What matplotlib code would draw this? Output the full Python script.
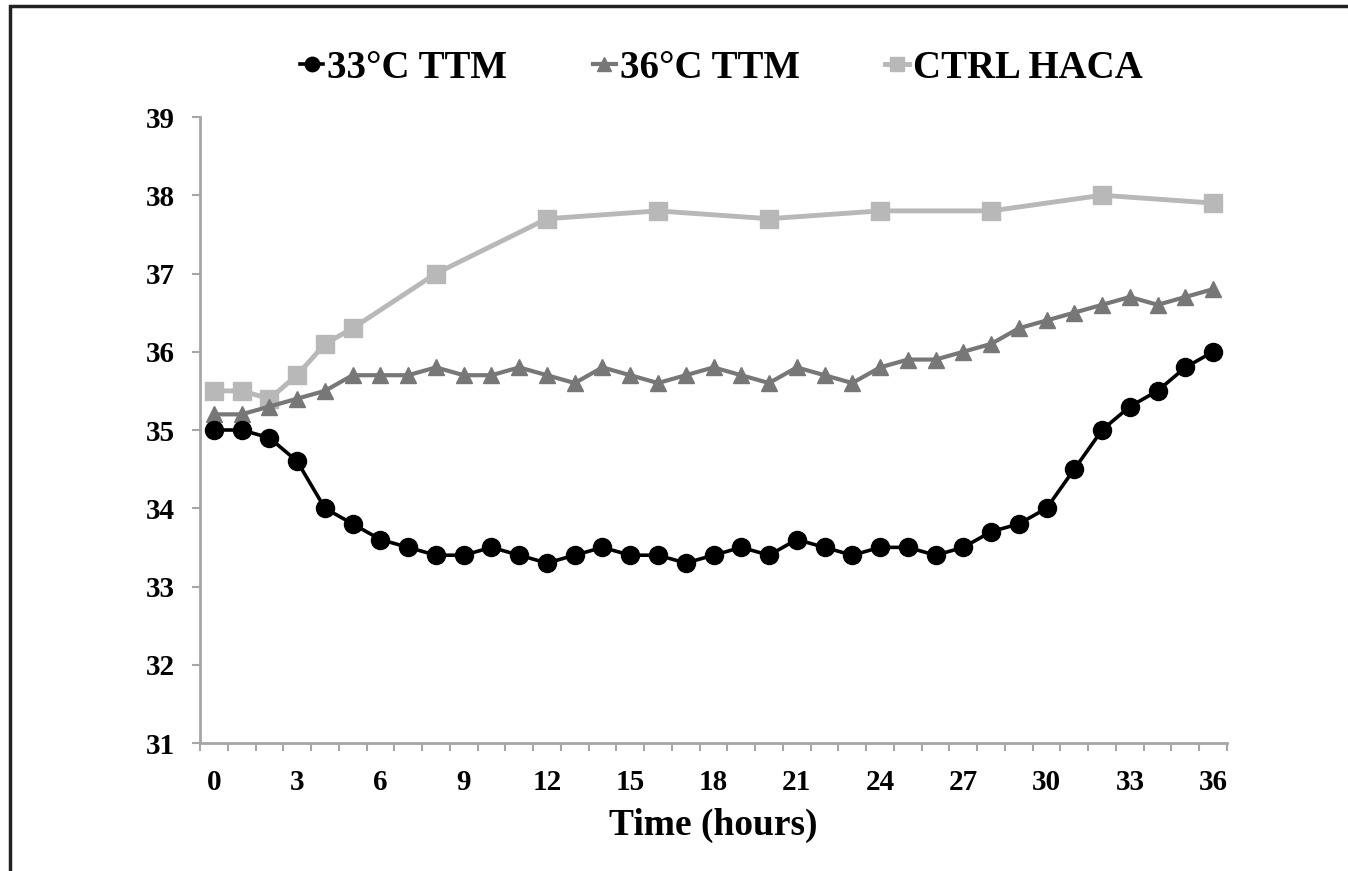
import matplotlib
matplotlib.use("Agg")
import matplotlib.pyplot as plt
from matplotlib.patches import Rectangle

hours = list(range(37))
ttm33 = [35.0, 35.0, 34.9, 34.6, 34.0, 33.8, 33.6, 33.5, 33.4, 33.4,
         33.5, 33.4, 33.3, 33.4, 33.5, 33.4, 33.4, 33.3, 33.4, 33.5,
         33.4, 33.6, 33.5, 33.4, 33.5, 33.5, 33.4, 33.5, 33.7, 33.8,
         34.0, 34.5, 35.0, 35.3, 35.5, 35.8, 36.0]
ttm36 = [35.2, 35.2, 35.3, 35.4, 35.5, 35.7, 35.7, 35.7, 35.8, 35.7,
         35.7, 35.8, 35.7, 35.6, 35.8, 35.7, 35.6, 35.7, 35.8, 35.7,
         35.6, 35.8, 35.7, 35.6, 35.8, 35.9, 35.9, 36.0, 36.1, 36.3,
         36.4, 36.5, 36.6, 36.7, 36.6, 36.7, 36.8]
ctrl_hours = [0, 1, 2, 3, 4, 5, 8, 12, 16, 20, 24, 28, 32, 36]
ctrl_haca = [35.5, 35.5, 35.4, 35.7, 36.1, 36.3, 37.0, 37.7, 37.8, 37.7,
             37.8, 37.8, 38.0, 37.9]
labels = ["33°C TTM", "36°C TTM", "CTRL HACA"]

plt.rcParams['font.family'] = ['Liberation Serif', 'DejaVu Serif']
plt.rcParams['font.weight'] = 'bold'

fig = plt.figure(figsize=(13.48, 8.71), dpi=100)
ax = fig.add_axes([200 / 1348, 1 - 743 / 871, 1027 / 1348, 626 / 871])

# outer frame (only left/top edges visible in the crop)
fig.add_artist(Rectangle((10 / 1348, -0.1), 1.2, 1.1 - 6 / 871,
                         transform=fig.transFigure, fill=False,
                         edgecolor='#222222', linewidth=2.5))

axis_gray = '#a6a6a6'
ax.plot(hours, ttm33, color='black', lw=2.6, marker='o', ms=13,
        label=labels[0], zorder=4)
ax.plot(hours, ttm36, color='#777777', lw=3, marker='^', ms=12,
        label=labels[1], zorder=3)
ax.plot(ctrl_hours, ctrl_haca, color='#b8b8b8', lw=3.5, marker='s', ms=12.5,
        label=labels[2], zorder=2)

ax.set_xlim(-0.5, 36.5)
ax.set_ylim(31, 39)
ax.set_xticks(range(0, 37, 3))
ax.set_xticks([h - 0.5 for h in range(38)], minor=True)
ax.set_yticks(range(31, 40))

for side in ['top', 'right']:
    ax.spines[side].set_visible(False)
for side in ['left', 'bottom']:
    ax.spines[side].set_color(axis_gray)
    ax.spines[side].set_linewidth(2)

ax.tick_params(axis='x', which='major', length=0, pad=19, labelsize=21)
ax.tick_params(axis='x', which='minor', length=6, width=1.5,
               color=axis_gray, direction='out')
ax.tick_params(axis='y', length=6, width=1.5, color=axis_gray, pad=12,
               labelsize=21)
for lab in ax.get_xticklabels() + ax.get_yticklabels():
    lab.set_fontweight('bold')

ax.set_xlabel('Time (hours)', fontsize=27, fontweight='bold', labelpad=8)

leg = fig.legend(loc='center', bbox_to_anchor=(0.535, 1 - 68 / 871), ncol=3,
                 frameon=False, fontsize=28, handlelength=0.6,
                 handletextpad=0.1, columnspacing=2.2, markerscale=0.8)
for t in leg.get_texts():
    t.set_fontweight('bold')

fig.savefig('out.png', dpi=100)
